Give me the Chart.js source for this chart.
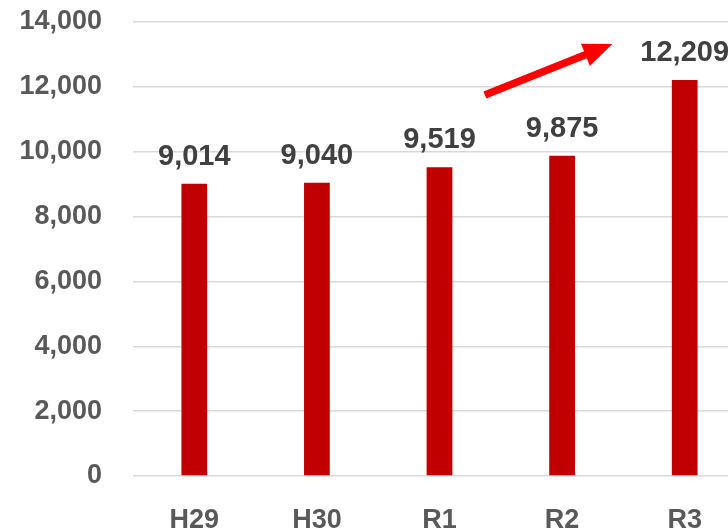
<!DOCTYPE html>
<html>
<head>
<meta charset="utf-8">
<script src="https://cdn.jsdelivr.net/npm/chart.js@4/dist/chart.umd.min.js"></script>
<style>
  html, body { margin: 0; padding: 0; background: #fff; overflow: hidden; }
  #wrap { width: 750px; height: 530px; }
</style>
</head>
<body>
<div id="wrap"><canvas id="c" width="750" height="530"></canvas></div>
<script>
// Yearly totals (fiscal years H29 .. R3)
const categories = ['H29', 'H30', 'R1', 'R2', 'R3'];
const totals = [9014, 9040, 9519, 9875, 12209];
const yTicks = [0, 2000, 4000, 6000, 8000, 10000, 12000, 14000];

// Trend arrow, given in data units: [category position, value]
const arrowFrom = [2.37, 11750];
const arrowTo = [3.41, 13320];

const FONT = "'Liberation Sans', Arial, sans-serif";

const fmt = v => v.toLocaleString('en-US');

// Value labels above each bar
const valueLabels = {
  id: 'valueLabels',
  afterDatasetsDraw(chart) {
    const ctx = chart.ctx;
    const meta = chart.getDatasetMeta(0);
    ctx.save();
    ctx.font = `bold 29px ${FONT}`;
    ctx.fillStyle = '#404040';
    ctx.textAlign = 'center';
    ctx.textBaseline = 'alphabetic';
    meta.data.forEach((bar, i) => {
      ctx.fillText(fmt(totals[i]), bar.x, bar.y - 19);
    });
    ctx.restore();
  }
};

// Red upward arrow showing the jump to R3
const trendArrow = {
  id: 'trendArrow',
  afterDatasetsDraw(chart) {
    const xs = chart.scales.x, ys = chart.scales.y;
    const px = p => {
      const i0 = Math.floor(p[0]), f = p[0] - i0;
      const a = xs.getPixelForValue(i0), b = xs.getPixelForValue(i0 + 1);
      return [a + (b - a) * f, ys.getPixelForValue(p[1])];
    };
    const [x1, y1] = px(arrowFrom);
    const [x2, y2] = px(arrowTo);
    const ang = Math.atan2(y2 - y1, x2 - x1);
    const len = Math.hypot(x2 - x1, y2 - y1);
    const headLen = 29, headHalf = 12, shaftHalf = 3.8;
    const ctx = chart.ctx;
    ctx.save();
    ctx.translate(x1, y1);
    ctx.rotate(ang);
    ctx.fillStyle = '#FF0000';
    ctx.beginPath();
    ctx.moveTo(0, -shaftHalf);
    ctx.lineTo(len - headLen, -shaftHalf);
    ctx.lineTo(len - headLen, -headHalf);
    ctx.lineTo(len, 0);
    ctx.lineTo(len - headLen, headHalf);
    ctx.lineTo(len - headLen, shaftHalf);
    ctx.lineTo(0, shaftHalf);
    ctx.closePath();
    ctx.fill();
    ctx.restore();
  }
};

new Chart(document.getElementById('c'), {
  type: 'bar',
  data: {
    labels: categories,
    datasets: [{
      data: totals,
      backgroundColor: '#C00000',
      borderWidth: 0,
      barPercentage: 0.21,
      categoryPercentage: 1
    }]
  },
  options: {
    responsive: false,
    animation: false,
    devicePixelRatio: 1,
    layout: { padding: { top: 22, right: 4, bottom: 0, left: 0 } },
    plugins: { legend: { display: false }, tooltip: { enabled: false } },
    scales: {
      x: {
        grid: { display: false, drawTicks: false },
        border: { display: false },
        ticks: {
          color: '#595959',
          font: { family: FONT, size: 27, weight: 'bold' },
          padding: 28,
          maxRotation: 0
        },
        afterFit(scale) { scale.height = 54; scale.paddingLeft = 0; scale.paddingRight = 0; }
      },
      y: {
        min: 0,
        max: 14000,
        afterBuildTicks(scale) { scale.ticks = yTicks.map(v => ({ value: v })); },
        grid: { color: '#D9D9D9', lineWidth: 1.5, drawTicks: false },
        border: { display: false },
        ticks: {
          color: '#595959',
          font: { family: FONT, size: 27, weight: 'bold' },
          padding: 31,
          callback: v => fmt(v)
        },
        afterFit(scale) { scale.width = 133; scale.paddingTop = 0; scale.paddingBottom = 0; }
      }
    }
  },
  plugins: [valueLabels, trendArrow]
});
</script>
</body>
</html>
